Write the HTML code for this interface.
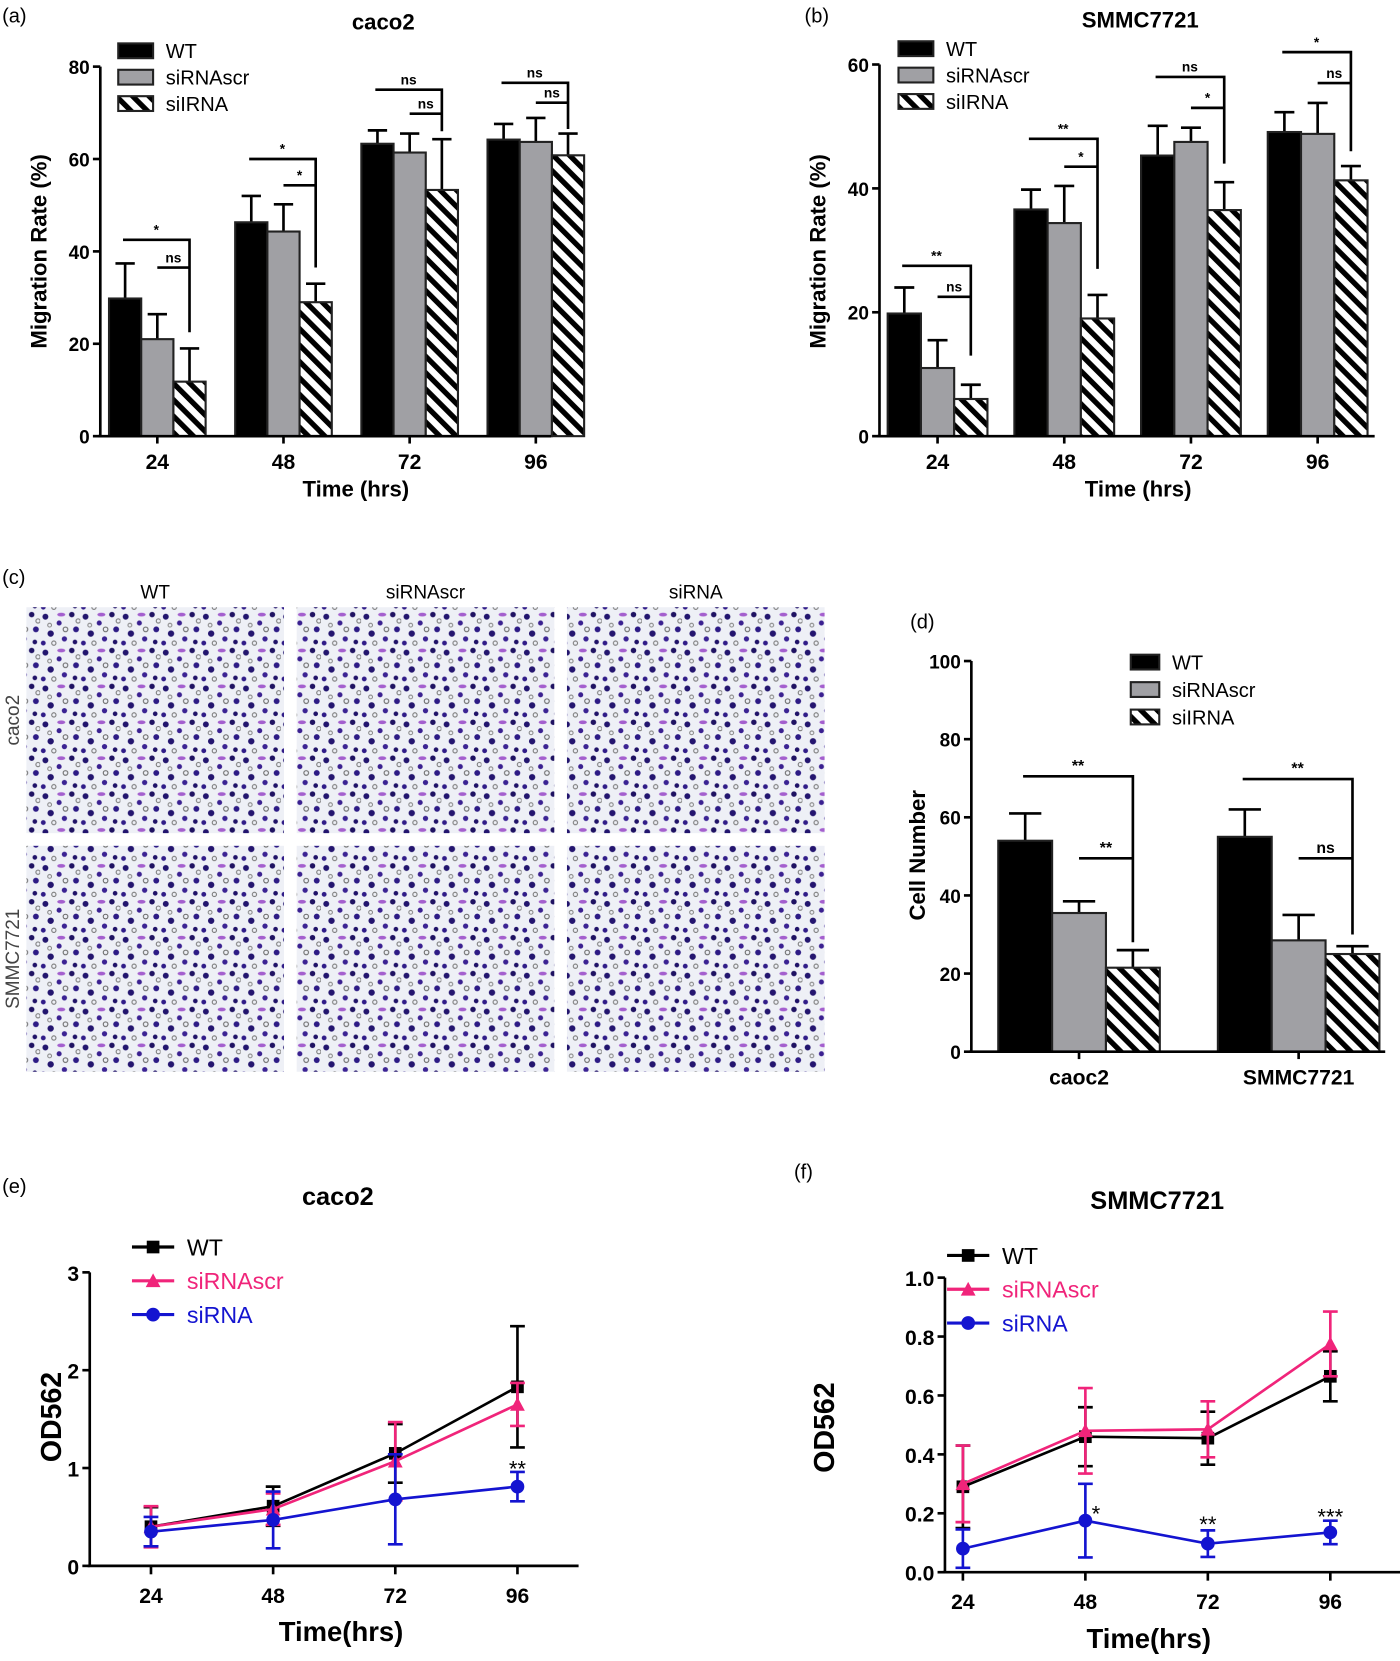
<!DOCTYPE html>
<html><head><meta charset="utf-8"><title>Migration figure</title>
<style>
html,body{margin:0;padding:0;background:#fff;}
svg{display:block;}
text{font-family:"Liberation Sans",Arial,sans-serif;}
.tick{font-size:20px;font-weight:bold;}
.leg{font-size:19px;}
.plab{font-size:19px;}
</style></head>
<body>
<svg id="fig" width="1400" height="1661" viewBox="0 0 1326 1573" xmlns="http://www.w3.org/2000/svg">
<defs>
<pattern id="hatch" patternUnits="userSpaceOnUse" width="11" height="11" patternTransform="rotate(-45)">
<rect width="11" height="11" fill="#fff"/><rect x="0" y="0" width="5" height="11" fill="#000"/>
</pattern>
<pattern id="cells" patternUnits="userSpaceOnUse" width="38" height="34">
<rect width="38" height="34" fill="#eef0f6"/>
<circle cx="5" cy="6" r="2.8" fill="#22156e"/><circle cx="18" cy="12" r="2.4" fill="#3a2090"/>
<circle cx="30" cy="4" r="2.6" fill="#1f1262"/><circle cx="34" cy="18" r="2.8" fill="#2d1b85"/>
<circle cx="10" cy="22" r="3" fill="#24156f"/><circle cx="23" cy="27" r="2.5" fill="#3b2393"/>
<circle cx="33" cy="30" r="2.2" fill="#201268"/><circle cx="3" cy="31" r="2.3" fill="#301c88"/>
<circle cx="24" cy="18" r="2.2" fill="none" stroke="#666" stroke-width="1"/>
<circle cx="13" cy="31" r="2" fill="none" stroke="#777" stroke-width="1"/>
<circle cx="36" cy="10" r="2" fill="none" stroke="#777" stroke-width="1"/>
<circle cx="9" cy="14" r="1.8" fill="none" stroke="#888" stroke-width="1"/>
<ellipse cx="20" cy="4" rx="3.8" ry="1.8" fill="#8b2fc0" opacity="0.75"/>
</pattern>
</defs>
<g id="root"></g>
</svg>
<script>
// ---------- Panel (a) caco2 migration ----------
const aCats = ["24","48","72","96"];
const aWT = [29.8, 46.3, 63.3, 64.2];
const aWTerr = [7.6, 5.7, 2.9, 3.4];
const aScr = [21.0, 44.3, 61.4, 63.7];
const aScrErr = [5.4, 5.9, 4.1, 5.2];
const aSi = [11.8, 29.0, 53.3, 60.8];
const aSiErr = [7.2, 4.0, 11.0, 4.7];
const aYTicks = [0,20,40,60,80];
const aBrLong = [42.5, 60.0, 75.0, 76.5];
const aBrShort = [36.5, 54.3, 69.8, 72.2];
const aBrBottom = [22.5, 36.5, 66.0, 66.5];
const aSigLong = ["*","*","ns","ns"];
const aSigShort = ["ns","*","ns","ns"];
// ---------- Panel (b) SMMC7721 migration ----------
const bCats = ["24","48","72","96"];
const bWT = [19.8, 36.6, 45.3, 49.1];
const bWTerr = [4.2, 3.2, 4.8, 3.2];
const bScr = [11.0, 34.4, 47.5, 48.8];
const bScrErr = [4.5, 6.0, 2.3, 5.0];
const bSi = [6.0, 19.0, 36.5, 41.3];
const bSiErr = [2.3, 3.8, 4.5, 2.3];
const bYTicks = [0,20,40,60];
const bBrLong = [27.5, 48.0, 58.0, 62.0];
const bBrShort = [22.5, 43.5, 53.0, 57.0];
const bBrBottom = [13.0, 27.0, 44.0, 46.0];
const bSigLong = ["**","**","ns","*"];
const bSigShort = ["ns","*","*","ns"];
// ---------- Panel (d) cell number ----------
const dCats = ["caoc2","SMMC7721"];
const dWT = [54.0, 55.0];
const dWTerr = [7.0, 7.0];
const dScr = [35.5, 28.5];
const dScrErr = [3.0, 6.5];
const dSi = [21.5, 25.0];
const dSiErr = [4.5, 2.0];
const dYTicks = [0,20,40,60,80,100];
const dBrLong = [70.5, 69.8];
const dBrShort = [49.5, 49.5];
const dBrBottom = [28.0, 30.0];
const dSigLong = ["**","**"];
const dSigShort = ["**","ns"];
// ---------- Panel (e) caco2 OD ----------
const eCats = ["24","48","72","96"];
const eWT = [0.40, 0.61, 1.15, 1.83];
const eWTerr = [0.20, 0.20, 0.30, 0.62];
const eScr = [0.40, 0.58, 1.07, 1.65];
const eScrErr = [0.21, 0.16, 0.40, 0.22];
const eSi = [0.35, 0.47, 0.68, 0.81];
const eSiErr = [0.15, 0.29, 0.46, 0.15];
const eYTicks = [0,1,2,3];
const eYLabels = ["0","1","2","3"];
const eStars = ["","","","**"];
const eStarVal = [0,0,0,1.0];
// ---------- Panel (f) SMMC7721 OD ----------
const fCats = ["24","48","72","96"];
const fWT = [0.29, 0.46, 0.455, 0.665];
const fWTerr = [0.14, 0.10, 0.09, 0.085];
const fScr = [0.30, 0.48, 0.485, 0.775];
const fScrErr = [0.13, 0.145, 0.095, 0.11];
const fSi = [0.08, 0.175, 0.097, 0.135];
const fSiErr = [0.065, 0.125, 0.045, 0.04];
const fYTicks = [0,0.2,0.4,0.6,0.8,1.0];
const fYLabels = ["0.0","0.2","0.4","0.6","0.8","1.0"];
const fStars = ["","*","**","***"];
const fStarVal = [0,0.2,0.165,0.19];

const NS="http://www.w3.org/2000/svg";
const root=document.getElementById('root');
function mk(tag,attrs,parent,txt){const e=document.createElementNS(NS,tag);for(const k in attrs)e.setAttribute(k,attrs[k]);if(txt!==undefined)e.textContent=txt;(parent||root).appendChild(e);return e;}
function lin(d0,d1,r0,r1){return v=>r0+(v-d0)*(r1-r0)/(d1-d0);}

function barPanel(o){
  const g=mk('g',{});
  
  
  const y=lin(0,o.ymax,o.y0,o.y1);
  const series=[[o.wt,o.wtErr,'#000'],[o.scr,o.scrErr,'#a0a0a4'],[o.si,o.siErr,'url(#hatch)']];
  const names=['wt','siRNAscr','siRNA'];
  o.cats.forEach((c,i)=>{
    const cx=o.cx0+i*o.step;
    const left=cx-1.5*o.bw;
    series.forEach((s,j)=>{
      const x=left+j*o.bw, v=s[0][i], e=s[1][i];
      const ey=mk('line',{x1:x+o.bw/2,x2:x+o.bw/2,y1:y(v),y2:y(v+e),stroke:'#000','stroke-width':2.5},g);
      
      
      const cap=mk('line',{x1:x+o.bw/2-o.bw*0.3,x2:x+o.bw/2+o.bw*0.3,y1:y(v+e),y2:y(v+e),stroke:'#000','stroke-width':2.5},g);
      
      
      const r=mk('rect',{x:x,y:y(v),width:o.bw,height:o.y0-y(v),fill:s[2],stroke:'#222','stroke-width':2},g);
      
      
    });
    const xw=left+o.bw*0.5-2, xs=left+o.bw*1.5, xi=left+o.bw*2.5;
    const br=mk('path',{d:`M${xw},${y(o.brLong[i])} H${xi} V${y(o.brBottom[i])} M${xs},${y(o.brShort[i])} H${xi}`,fill:'none',stroke:'#000','stroke-width':2.5},g);
    
    
    const t1=mk('text',{x:(xw+xi)/2,y:y(o.brLong[i])-5,'text-anchor':'middle','font-size':o.sigSize,'font-weight':'bold'},g,o.sigLong[i]);
    
    
    const t2=mk('text',{x:(xs+xi)/2,y:y(o.brShort[i])-5,'text-anchor':'middle','font-size':o.sigSize,'font-weight':'bold'},g,o.sigShort[i]);
    
    
    const tk=mk('line',{x1:cx,x2:cx,y1:o.y0,y2:o.y0+7,stroke:'#000','stroke-width':2.5},g);
    
    
    const tl=mk('text',{x:cx,y:o.y0+31,'text-anchor':'middle',class:'tick','font-size':o.xTickSize},g,c);
    
    
  });
  o.ticks.forEach(t=>{
    const l=mk('line',{x1:o.ax-7,x2:o.ax,y1:y(t),y2:y(t),stroke:'#000','stroke-width':2.5},g);
    
    
    const tt=mk('text',{x:o.ax-10,y:y(t)+7,'text-anchor':'end','font-size':18,'font-weight':'bold'},g,String(t));
    
    
  });
  const ya=mk('line',{x1:o.ax,x2:o.ax,y1:y(o.ymax),y2:o.y0+1,stroke:'#000','stroke-width':2.5},g);
  
  
  const xa=mk('line',{x1:o.ax-2,x2:o.axEnd,y1:o.y0,y2:o.y0,stroke:'#000','stroke-width':2.5},g);
  
  
  const yt=mk('text',{x:0,y:0,transform:`translate(${o.ytx},${o.yty}) rotate(-90)`,'text-anchor':'middle','font-size':21,'font-weight':'bold'},g,o.yTitle);
  
  
  if(o.xTitle){const xt=mk('text',{x:o.xtx,y:o.xty,'text-anchor':'middle','font-size':21,'font-weight':'bold'},g,o.xTitle);
  
  }
  if(o.title){const tt=mk('text',{x:o.tx,y:o.ty,'text-anchor':'middle','font-size':21,'font-weight':'bold'},g,o.title);
  
  }
  const lg=mk('g',{},g);
  
  
  const lf=['#000','#a0a0a4','url(#hatch)'], lt=['WT','siRNAscr','siIRNA'];
  lf.forEach((f,j)=>{
    const ly=o.ly+j*o.lstep;
    const r=mk('rect',{x:o.lx,y:ly-7,width:o.lw,height:14,fill:f,stroke:'#222','stroke-width':2},lg);
    
    
    const t=mk('text',{x:o.lx+o.lw+12,y:ly+7,class:'leg'},lg,lt[j]);
    
    
  });
}

barPanel({name:'panel-a-caco2-migration',cats:aCats,wt:aWT,wtErr:aWTerr,scr:aScr,scrErr:aScrErr,si:aSi,siErr:aSiErr,
  brLong:aBrLong,brShort:aBrShort,brBottom:aBrBottom,sigLong:aSigLong,sigShort:aSigShort,
  ymax:80,y0:413,y1:63,ax:95,axEnd:522,cx0:149,step:119.5,bw:30.5,ticks:aYTicks,sigSize:13,xTickSize:20,
  yTitle:'Migration Rate (%)',ytx:44,yty:238,xTitle:'Time (hrs)',xtx:337,xty:470,title:'caco2',tx:363,ty:28,
  lx:112,ly:48,lstep:25,lw:33});
barPanel({name:'panel-b-smmc7721-migration',cats:bCats,wt:bWT,wtErr:bWTerr,scr:bScr,scrErr:bScrErr,si:bSi,siErr:bSiErr,
  brLong:bBrLong,brShort:bBrShort,brBottom:bBrBottom,sigLong:bSigLong,sigShort:bSigShort,
  ymax:60,y0:413,y1:61,ax:833,axEnd:1302,cx0:888,step:120,bw:31.5,ticks:bYTicks,sigSize:13,xTickSize:20,
  yTitle:'Migration Rate (%)',ytx:782,yty:238,xTitle:'Time (hrs)',xtx:1078,xty:470,title:'SMMC7721',tx:1080,ty:26,
  lx:851,ly:46,lstep:25,lw:33});
barPanel({name:'panel-d-cell-number',cats:dCats,wt:dWT,wtErr:dWTerr,scr:dScr,scrErr:dScrErr,si:dSi,siErr:dSiErr,
  brLong:dBrLong,brShort:dBrShort,brBottom:dBrBottom,sigLong:dSigLong,sigShort:dSigShort,
  ymax:100,y0:996,y1:626,ax:920,axEnd:1312,cx0:1022,step:208,bw:51,ticks:dYTicks,sigSize:15,xTickSize:19,
  yTitle:'Cell Number',ytx:876,yty:810,xTitle:null,title:null,
  lx:1071,ly:627,lstep:26,lw:27});

function linePanel(o){
  const g=mk('g',{});
  
  
  const y=lin(0,o.ymax,o.y0,o.y1);
  const x=i=>o.cx0+i*o.step;
  o.ticks.forEach((t,k)=>{
    const l=mk('line',{x1:o.ax-7,x2:o.ax,y1:y(t),y2:y(t),stroke:'#000','stroke-width':2.5},g);
    
    
    const tt=mk('text',{x:o.ax-10,y:y(t)+8,'text-anchor':'end',class:'tick'},g,o.tickLabels[k]);
    
    
  });
  o.cats.forEach((c,i)=>{
    const tk=mk('line',{x1:x(i),x2:x(i),y1:o.y0,y2:o.y0+8,stroke:'#000','stroke-width':2.5},g);
    
    
    const tl=mk('text',{x:x(i),y:o.y0+35,'text-anchor':'middle',class:'tick'},g,c);
    
    
  });
  const ya=mk('line',{x1:o.ax,x2:o.ax,y1:y(o.ymax),y2:o.y0+1,stroke:'#000','stroke-width':2.5},g);
  
  
  const xa=mk('line',{x1:o.ax-2,x2:o.axEnd,y1:o.y0,y2:o.y0,stroke:'#000','stroke-width':2.5},g);
  
  
  const series=[[o.wt,o.wtErr,'#000','sq','WT'],[o.scr,o.scrErr,'#f0247a','tri','siRNAscr'],[o.si,o.siErr,'#1414d0','dot','siRNA']];
  function marker(px,py,kind,col,parent,nm){
    let m;
    if(kind==='sq') m=mk('rect',{x:px-6,y:py-6,width:12,height:12,fill:col},parent);
    else if(kind==='tri') m=mk('path',{d:`M${px},${py-7} L${px+7},${py+6} L${px-7},${py+6} Z`,fill:col},parent);
    else m=mk('circle',{cx:px,cy:py,r:6.5,fill:col},parent);
    
    
  }
  series.forEach(s=>{
    const sg=mk('g',{},g);
    
    
    s[0].forEach((v,i)=>{
      const e=s[1][i];
      const eb=mk('path',{d:`M${x(i)},${y(v-e)} V${y(v+e)} M${x(i)-7},${y(v-e)} H${x(i)+7} M${x(i)-7},${y(v+e)} H${x(i)+7}`,stroke:s[2],'stroke-width':2.5,fill:'none'},sg);
      
      
    });
    const pl=mk('polyline',{points:s[0].map((v,i)=>x(i)+','+y(v)).join(' '),fill:'none',stroke:s[2],'stroke-width':2.5},sg);
    
    
    s[0].forEach((v,i)=>marker(x(i),y(v),s[3],s[2],sg,'point-'+s[4]+'-'+o.cats[i]));
  });
  o.stars.forEach((st,i)=>{
    if(!st)return;
    const t=mk('text',{x:x(i)+o.starDx[i],y:y(o.starVal[i])+8,'text-anchor':'middle','font-size':21},g,st);
    
    
  });
  const yt=mk('text',{x:0,y:0,transform:`translate(${o.ytx},${o.yty}) rotate(-90)`,'text-anchor':'middle','font-size':27,'font-weight':'bold'},g,'OD562');
  
  
  const xt=mk('text',{x:o.xtx,y:o.xty,'text-anchor':'middle','font-size':26,'font-weight':'bold'},g,'Time(hrs)');
  
  
  const tt=mk('text',{x:o.tx,y:o.ty,'text-anchor':'middle','font-size':24,'font-weight':'bold'},g,o.title);
  
  
  const lg=mk('g',{},g);
  
  
  series.forEach((s,j)=>{
    const ly=o.ly+j*32;
    const ll=mk('line',{x1:o.lx,x2:o.lx+40,y1:ly,y2:ly,stroke:s[2],'stroke-width':3},lg);
    
    
    marker(o.lx+20,ly,s[3],s[2],lg,'legend-marker-'+s[4]);
    const t=mk('text',{x:o.lx+52,y:ly+8,'font-size':22,fill:j===0?'#000':s[2]},lg,s[4]);
    
    
  });
}
linePanel({name:'panel-e-caco2-od',cats:eCats,wt:eWT,wtErr:eWTerr,scr:eScr,scrErr:eScrErr,si:eSi,siErr:eSiErr,
  ticks:eYTicks,tickLabels:eYLabels,stars:eStars,starVal:eStarVal,starDx:[0,0,0,0],ymax:3,y0:1483,y1:1205,ax:85,axEnd:548,cx0:143,step:115.7,
  ytx:58,yty:1342,xtx:323,xty:1554,tx:320,ty:1141,title:'caco2',lx:125,ly:1181});
linePanel({name:'panel-f-smmc7721-od',cats:fCats,wt:fWT,wtErr:fWTerr,scr:fScr,scrErr:fScrErr,si:fSi,siErr:fSiErr,
  ticks:fYTicks,tickLabels:fYLabels,stars:fStars,starVal:fStarVal,starDx:[0,10,0,0],ymax:1.0,y0:1489,y1:1210,ax:895,axEnd:1326,cx0:912,step:116,
  ytx:790,yty:1352,xtx:1088,xty:1561,tx:1096,ty:1145,title:'SMMC7721',lx:897,ly:1189});

[['(a)',2,21],['(b)',762,21],['(c)',2,553],['(d)',862,595],['(e)',2,1130],['(f)',752,1116]].forEach(p=>{
  const t=mk('text',{x:p[1],y:p[2],class:'plab'},root,p[0]);
  
  
});

const cCols = ["WT","siRNAscr","siRNA"];
const cRows = ["caco2","SMMC7721"];
const cg=mk('g',{});


const colX=[25,281,537], rowY=[575,801], cw=244, ch=214;
cCols.forEach((c,i)=>{
  const t=mk('text',{x:colX[i]+cw/2,y:567,'text-anchor':'middle','font-size':18},cg,c);
  
  
  cRows.forEach((r,j)=>{
    const im=mk('rect',{x:colX[i],y:rowY[j],width:cw,height:ch,fill:'url(#cells)'},cg);
    
    
  });
});
cRows.forEach((r,j)=>{
  const t=mk('text',{x:0,y:0,transform:`translate(18,${rowY[j]+ch/2}) rotate(-90)`,'text-anchor':'middle','font-size':18,fill:'#444'},cg,r);
  
  
});
</script>
</body></html>
